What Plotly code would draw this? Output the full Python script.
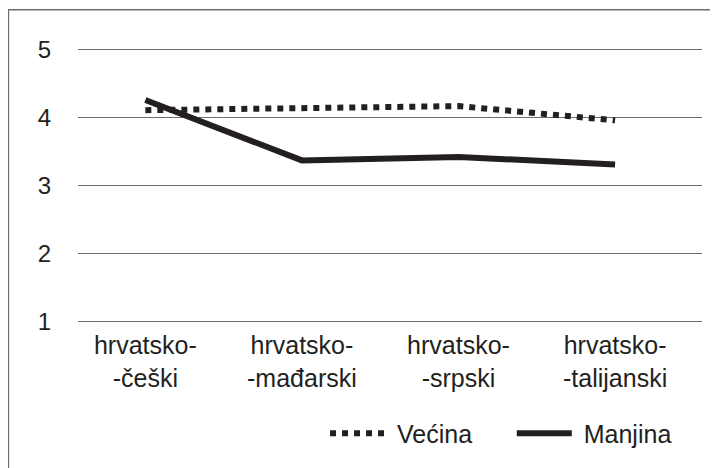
import plotly.graph_objects as go

# data
categories = ["hrvatsko-<br>-češki", "hrvatsko-<br>-mađarski", "hrvatsko-<br>-srpski", "hrvatsko-<br>-talijanski"]
vecina = [4.11, 4.14, 4.17, 3.96]
manjina = [4.26, 3.37, 3.42, 3.31]
y_ticks = [1, 2, 3, 4, 5]

FONT = "Liberation Sans, Arial, sans-serif"
INK = "#231f20"
NB = "\u00a0"

fig = go.Figure()

fig.add_trace(
    go.Scatter(
        x=categories,
        y=vecina,
        mode="lines",
        name=NB + "Većina" + NB * 5,
        line=dict(color=INK, width=6, dash="dot"),
    )
)

fig.add_trace(
    go.Scatter(
        x=categories,
        y=manjina,
        mode="lines",
        name=NB + "Manjina",
        line=dict(color=INK, width=6),
    )
)

# outer frame around the whole chart
fig.add_shape(
    type="rect",
    xref="paper", yref="paper",
    x0=-0.1115, x1=1.05, y0=-0.6, y1=1.1167,
    line=dict(color="#6e6e6e", width=1.5),
    fillcolor="rgba(0,0,0,0)",
    layer="below",
)

# page body adds 8px offset, so the figure is a bit smaller
fig.update_layout(
    width=710,
    height=460,
    margin=dict(l=70, r=16, t=35, b=140),
    paper_bgcolor="white",
    plot_bgcolor="white",
    font=dict(family=FONT, size=25, color=INK),
    showlegend=True,
    legend=dict(
        orientation="h",
        x=0.96, xanchor="right",
        y=-0.37, yanchor="middle",
        font=dict(size=25),
        itemwidth=55,
        bgcolor="rgba(0,0,0,0)",
        traceorder="normal",
    ),
)

fig.update_xaxes(
    type="category",
    range=[-0.43, 3.555],
    showgrid=False,
    zeroline=False,
    showline=False,
    ticks="",
    tickfont=dict(size=25),
    ticklabelstandoff=0,
)

fig.update_yaxes(
    range=[0.9, 5.1],
    tickvals=y_ticks,
    showgrid=True,
    gridcolor="#707070",
    gridwidth=1,
    zeroline=False,
    showline=False,
    ticks="",
    tickfont=dict(size=24),
    ticklabelstandoff=26,
)

fig.write_html("out.html")
